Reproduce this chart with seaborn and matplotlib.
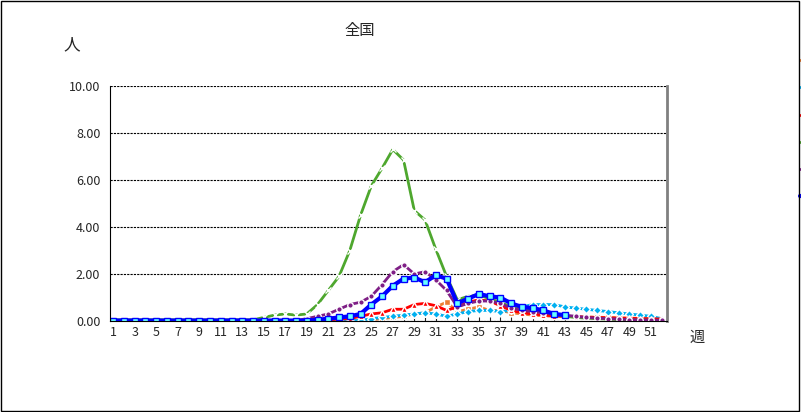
import numpy as np
import pandas as pd
import matplotlib
matplotlib.use("Agg")
import matplotlib.pyplot as plt
import seaborn as sns

weeks = list(range(1, 53))

y2020 = [0.02]*24 + [0.05, 0.1, 0.15, 0.2, 0.3, 0.35, 0.6, 0.8, 0.4, 0.5, 0.6, 0.45, 0.45, 0.35, 0.3, 0.25,
                     0.22, 0.2, 0.2, 0.18, 0.18, 0.16, 0.15, 0.14, 0.12, 0.12, 0.1, 0.1]
y2021 = [0.02]*24 + [0.1, 0.15, 0.2, 0.25, 0.3, 0.35, 0.3, 0.2, 0.3, 0.4, 0.45, 0.45, 0.4, 0.45, 0.6, 0.7,
                     0.7, 0.7, 0.6, 0.55, 0.5, 0.45, 0.4, 0.35, 0.3, 0.25, 0.2, 0.1]
y2022 = [0.02]*19 + [0.05, 0.05, 0.08, 0.1, 0.2, 0.3, 0.35, 0.5, 0.5, 0.7, 0.75, 0.65, 0.45, 0.6, 0.8, 0.9,
                     0.85, 0.65, 0.45, 0.35, 0.3, 0.25, 0.22, 0.2, 0.18, 0.16, 0.15, 0.14, 0.12, 0.12, 0.1, 0.1, 0.08]
y2023 = [0.05]*14 + [0.15, 0.25, 0.3, 0.25, 0.3, 0.7, 1.3, 1.9, 3.0, 4.5, 5.75, 6.5, 7.3, 6.85, 4.7, 4.3, 3.05,
                     1.9, 0.9, 1.05, 1.1, 0.95, 0.8, 0.6, 0.5, 0.45, 0.4, 0.3, 0.2, 0.15, 0.12, 0.1, 0.08, 0.06,
                     0.05, 0.04, 0.03, 0.02]
y2024 = [0.02]*18 + [0.1, 0.2, 0.3, 0.5, 0.7, 0.8, 1.05, 1.55, 2.1, 2.4, 2.0, 2.1, 1.75, 1.3, 0.6, 0.75, 0.85,
                     0.85, 0.75, 0.55, 0.45, 0.4, 0.35, 0.3, 0.25, 0.2, 0.15, 0.12, 0.1, 0.08, 0.06, 0.05, 0.04, 0.03]
y2025 = [0.02]*19 + [0.05, 0.1, 0.15, 0.2, 0.3, 0.7, 1.05, 1.5, 1.8, 1.85, 1.65, 1.95, 1.8, 0.75, 0.95, 1.15,
                     1.05, 1.0, 0.75, 0.6, 0.55, 0.45, 0.3, 0.25]

series = {
    "2020": (y2020, "#ED7D31", "s", 2),
    "2021": (y2021, "#00B0F0", "D", 2),
    "2022": (y2022, "#FF0000", "^", 2),
    "2023": (y2023, "#4EA72E", "x", 2),
    "2024": (y2024, "#7F1F86", "o", 2),
    "2025": (y2025, "#0000FF", "s", 3),
}

sns.set_style("white")
plt.rcParams["font.family"] = ["Noto Sans CJK JP", "DejaVu Sans"]

fig = plt.figure(figsize=(8.01, 4.12), dpi=100)
ax = fig.add_axes([110/801, 1-321/412, 557/801, 235/412])

for name, (vals, col, mk, lw) in series.items():
    df = pd.DataFrame({"week": weeks[:len(vals)], "val": vals})
    kw = dict(markersize=4)
    if name == "2025":
        kw = dict(markersize=5, markerfacecolor="#66FFFF", markeredgecolor="#0000FF")
    sns.lineplot(data=df, x="week", y="val", ax=ax, color=col, marker=mk, linewidth=lw,
                 label=name, markeredgewidth=1, **kw)

ax.set_xlim(0.7, 52.5)
ax.set_ylim(0, 10)
ax.set_yticks(np.arange(0, 10.1, 2))
ax.set_yticklabels([f"{v:.2f}" for v in np.arange(0, 10.1, 2)], fontsize=9)
ax.set_xticks(weeks)
ax.set_xticklabels([str(w) if w % 2 == 1 else "" for w in weeks], fontsize=9)
ax.tick_params(axis="x", length=3, direction="in", bottom=True)
ax.set_xlabel("")
ax.set_ylabel("")
ax.yaxis.grid(True, linestyle=(0, (2, 1)), color="black", linewidth=0.8)
ax.spines["top"].set_visible(False)
ax.spines["left"].set_color("black")
ax.spines["bottom"].set_color("black")
ax.spines["right"].set_color("#808080")
ax.spines["right"].set_linewidth(2)

ax.legend(loc="upper left", bbox_to_anchor=(680/557, 1.17), frameon=False, fontsize=8,
          labelspacing=1.55, handlelength=2.5)

fig.text(360/801, 1-30/412, "全国", ha="center", va="center", fontsize=11)
fig.text(72/801, 1-45/412, "人", ha="center", va="center", fontsize=12)
fig.text(697/801, 1-337/412, "週", ha="center", va="center", fontsize=11)
fig.patches.append(plt.Rectangle((0.001, 0.002), 0.997, 0.996, transform=fig.transFigure,
                                 fill=False, edgecolor="black", linewidth=1))

fig.savefig("out.png", dpi=100)
